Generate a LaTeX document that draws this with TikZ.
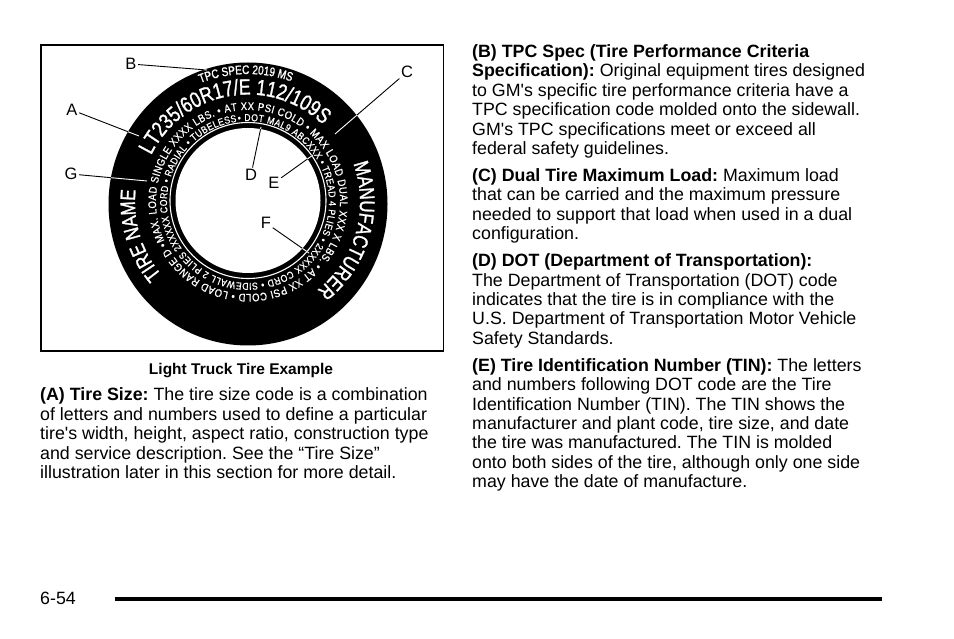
\documentclass[tikz,border=0pt]{standalone}
\usepackage{fontspec}
\setmainfont{Liberation Sans}
\newfontfamily\tirefont[FakeStretch=0.8,FakeBold=1.2]{Liberation Sans}
\newfontfamily\ringfont[FakeStretch=0.86,FakeBold=0.8]{Liberation Sans}
\usetikzlibrary{decorations.text}
\newcommand\bodyfont{\fontsize{17.8}{19.4}\selectfont}
\newcommand\apos{\textquotesingle}
\frenchspacing
\begin{document}
\begin{tikzpicture}[x=1pt,y=1pt,
  txt/.style={anchor=base west, inner sep=0pt, font=\bodyfont},
  lbl/.style={inner sep=1.5pt, font=\fontsize{16.5}{16.5}\selectfont},
  leader/.style={line width=0.9pt},
  ringtext/.style={decorate, decoration={text along path, #1}}]
\useasboundingbox (0,0) rectangle (954,638);
% frame
\draw[line width=1.3pt] (41,593) rectangle (443.5,287);
% tire
\coordinate (C) at (248,434);
\coordinate (H) at (248,437.5);
\coordinate (T) at (248,436);
\fill[black] (C) ellipse [x radius=139.5, y radius=141.5];
\fill[white] (H) circle (72.5);
\draw[white, line width=1.1pt] (H) circle (78);
\begin{scope}[shift={(T)}]
\path[ringtext={text align=center, text={|\color{white}\tirefont\fontsize{12.5}{13}\selectfont|TPC SPEC 2019 MS}}]
  (131:128) arc[start angle=131, end angle=51, radius=128];
\path[ringtext={text align=center, text={|\color{white}\tirefont\fontsize{22}{22}\selectfont|LT235/60R17/E 112/109S}}]
  (190:107.5) arc[start angle=190, end angle=10, radius=107.5];
\path[ringtext={text align=center, text={|\color{white}\tirefont\fontsize{21}{21}\selectfont|MANUFACTURER}}]
  (46:112) arc[start angle=46, end angle=-78, radius=112];
\path[ringtext={text align=center, text={|\color{white}\tirefont\fontsize{21}{21}\selectfont|TIRE NAME}}]
  (249:113) arc[start angle=249, end angle=145, radius=113];
\path[ringtext={text align={fit to path}, text={|\color{white}\ringfont\fontsize{11}{11}\selectfont|MAX. LOAD SINGLE XXXX LBS. • AT XX PSI COLD • MAX LOAD DUAL XXX  X LBS. • AT XX PSI COLD • LOAD RANGE D • }}]
  (205:92) arc[start angle=205, end angle=-154, radius=92];
\path[ringtext={text align={fit to path}, text={|\color{white}\ringfont\fontsize{10}{10}\selectfont|• DOT MAL9 ABCXXX • TREAD 4 PLIES • 2XXXXX CORD • SIDEWALL 2 PLIES 2XXXXX CORD • RADIAL • TUBELESS }}]
  (97:81) arc[start angle=97, end angle=-262, radius=81];
\end{scope}
% labels and leaders
\node[lbl] (A) at (72,528) {A};
\node[lbl] (B) at (131,574) {B};
\node[lbl] (Cl) at (407,566) {C};
\node[lbl] (D) at (251,463) {D};
\node[lbl] (E) at (274,455) {E};
\node[lbl] (F) at (266,415) {F};
\node[lbl] (G) at (71,464) {G};
\coordinate (a2) at (139,502);
\coordinate (b2) at (207,568);
\coordinate (c2) at (335,504);
\coordinate (d2) at (261,511);
\coordinate (e2) at (313,483);
\coordinate (f2) at (309,385);
\coordinate (g2) at (147,457);
\foreach \s/\t in {A/a2,B/b2,Cl/c2,D/d2,E/e2,F/f2,G/g2}
  \draw[leader] (\s) -- (\t);
\begin{scope}[even odd rule]
\clip (C) ellipse [x radius=139.5, y radius=141.5] (H) circle (72.5);
\foreach \s/\t in {A/a2,B/b2,Cl/c2,D/d2,E/e2,F/f2,G/g2}
  \draw[leader, white] (\s) -- (\t);
\end{scope}
% caption
\node[inner sep=0pt, anchor=base, font=\fontsize{15.5}{16}\selectfont\bfseries] (cap) at (241,263) {Light Truck Tire Example};
% left column
\node[txt] (a1) at (40,237) {\textbf{(A) Tire Size:} The tire size code is a combination};
\node[txt] (a2t) at (40,217.6) {of letters and numbers used to define a particular};
\node[txt] (a3) at (40,198.2) {tire\apos s width, height, aspect ratio, construction type};
\node[txt] (a4) at (40,178.8) {and service description. See the “Tire Size”};
\node[txt] (a5) at (40,159.4) {illustration later in this section for more detail.};
% right column
\node[txt] (r1) at (472,580.5) {\textbf{(B) TPC Spec (Tire Performance Criteria}};
\node[txt] (r2) at (472,561.1) {\textbf{Specification):} Original equipment tires designed};
\node[txt] (r3) at (472,541.7) {to GM\apos s specific tire performance criteria have a};
\node[txt] (r4) at (472,522.3) {TPC specification code molded onto the sidewall.};
\node[txt] (r5) at (472,502.9) {GM\apos s TPC specifications meet or exceed all};
\node[txt] (r6) at (472,483.5) {federal safety guidelines.};
\node[txt] (r7) at (472,456.5) {\textbf{(C) Dual Tire Maximum Load:} Maximum load};
\node[txt] (r8) at (472,437.1) {that can be carried and the maximum pressure};
\node[txt] (r9) at (472,417.7) {needed to support that load when used in a dual};
\node[txt] (r10) at (472,398.3) {configuration.};
\node[txt] (r11) at (472,371.3) {\textbf{(D) DOT (Department of Transportation):}};
\node[txt] (r12) at (472,351.9) {The Department of Transportation (DOT) code};
\node[txt] (r13) at (472,332.5) {indicates that the tire is in compliance with the};
\node[txt] (r14) at (472,313.1) {U.S. Department of Transportation Motor Vehicle};
\node[txt] (r15) at (472,293.7) {Safety Standards.};
\node[txt] (r16) at (472,266.7) {\textbf{(E) Tire Identification Number (TIN):} The letters};
\node[txt] (r17) at (472,247.3) {and numbers following DOT code are the Tire};
\node[txt] (r18) at (472,227.9) {Identification Number (TIN). The TIN shows the};
\node[txt] (r19) at (472,208.5) {manufacturer and plant code, tire size, and date};
\node[txt] (r20) at (472,189.1) {the tire was manufactured. The TIN is molded};
\node[txt] (r21) at (472,169.7) {onto both sides of the tire, although only one side};
\node[txt] (r22) at (472,150.3) {may have the date of manufacture.};
% footer
\node[txt] (pg) at (40,33.5) {6-54};
\coordinate (rl) at (115,38.7);
\coordinate (rr) at (882,38.7);
\draw[line width=4pt] (rl) -- (rr);
\end{tikzpicture}
\end{document}
